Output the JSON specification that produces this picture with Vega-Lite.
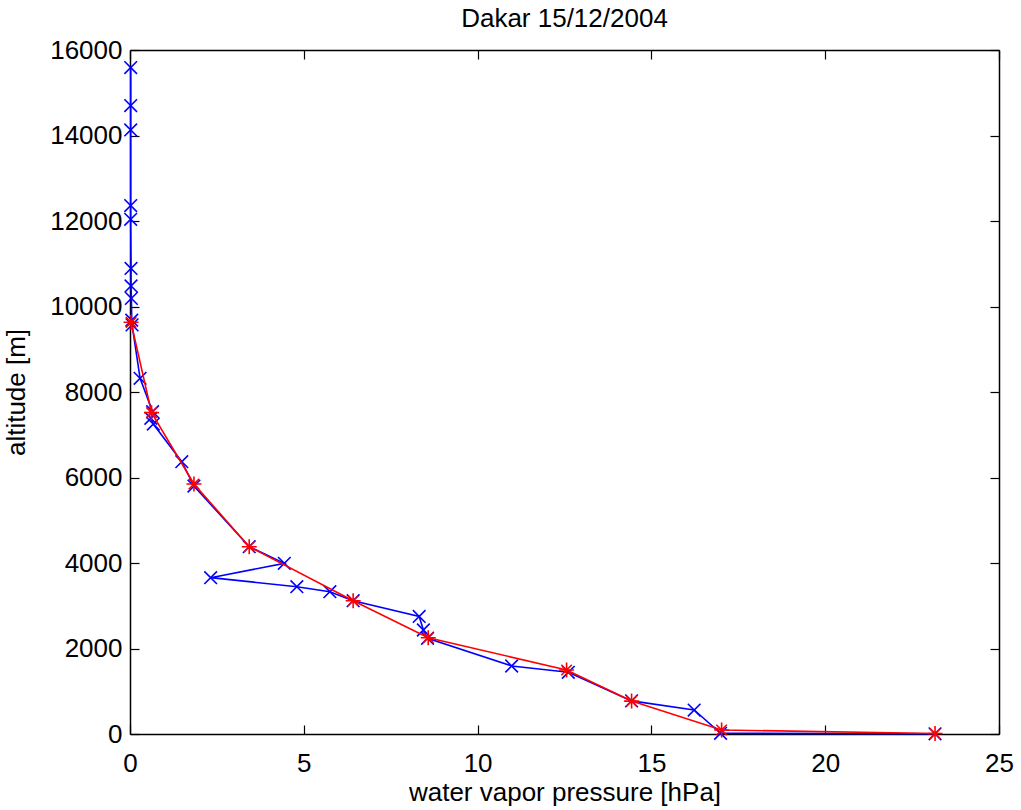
{
  "$schema": "https://vega.github.io/schema/vega-lite/v6.json",
  "autosize": {"type": "none"},
  "width": 869,
  "height": 684,
  "padding": {"left": 130, "top": 50, "right": 22, "bottom": 76},
  "background": "white",
  "view": {"stroke": null},
  "config": {
    "font": "Liberation Sans",
    "axis": {
      "domainColor": "black", "domainWidth": 1.5, "tickColor": "black", "tickWidth": 1.2,
      "labelColor": "black", "titleColor": "black", "labelFont": "Liberation Sans", "titleFont": "Liberation Sans",
      "labelFontSize": 26, "titleFontSize": 26, "titleFontWeight": "normal", "grid": false
    }
  },
  "title": {"text": "Dakar 15/12/2004", "fontSize": 26, "fontWeight": "normal", "font": "Liberation Sans", "color": "black", "anchor": "middle", "frame": "group", "offset": 5},
  "data": {"values": [
    {"s": "blue", "i": 1, "p": 0.02, "alt": 15590},
    {"s": "blue", "i": 2, "p": 0.02, "alt": 14700},
    {"s": "blue", "i": 3, "p": 0.02, "alt": 14130},
    {"s": "blue", "i": 4, "p": 0.02, "alt": 12360},
    {"s": "blue", "i": 5, "p": 0.02, "alt": 12040},
    {"s": "blue", "i": 6, "p": 0.03, "alt": 10890},
    {"s": "blue", "i": 7, "p": 0.03, "alt": 10480},
    {"s": "blue", "i": 8, "p": 0.04, "alt": 10190},
    {"s": "blue", "i": 9, "p": 0.05, "alt": 9680},
    {"s": "blue", "i": 10, "p": 0.06, "alt": 9570},
    {"s": "blue", "i": 11, "p": 0.29, "alt": 8320},
    {"s": "blue", "i": 12, "p": 0.65, "alt": 7540},
    {"s": "blue", "i": 13, "p": 0.60, "alt": 7385},
    {"s": "blue", "i": 14, "p": 0.67, "alt": 7250},
    {"s": "blue", "i": 15, "p": 1.49, "alt": 6370},
    {"s": "blue", "i": 16, "p": 1.84, "alt": 5800},
    {"s": "blue", "i": 17, "p": 3.43, "alt": 4381},
    {"s": "blue", "i": 18, "p": 4.44, "alt": 3992},
    {"s": "blue", "i": 19, "p": 2.32, "alt": 3657},
    {"s": "blue", "i": 20, "p": 4.80, "alt": 3446},
    {"s": "blue", "i": 21, "p": 5.75, "alt": 3329},
    {"s": "blue", "i": 22, "p": 6.42, "alt": 3118},
    {"s": "blue", "i": 23, "p": 8.32, "alt": 2750},
    {"s": "blue", "i": 24, "p": 8.44, "alt": 2433},
    {"s": "blue", "i": 25, "p": 8.56, "alt": 2240},
    {"s": "blue", "i": 26, "p": 10.98, "alt": 1591},
    {"s": "blue", "i": 27, "p": 12.61, "alt": 1443},
    {"s": "blue", "i": 28, "p": 14.43, "alt": 775},
    {"s": "blue", "i": 29, "p": 16.23, "alt": 561},
    {"s": "blue", "i": 30, "p": 16.99, "alt": 16},
    {"s": "blue", "i": 31, "p": 23.16, "alt": 5},
    {"s": "red", "i": 1, "p": 0.03, "alt": 9630},
    {"s": "red", "i": 2, "p": 0.62, "alt": 7517},
    {"s": "red", "i": 3, "p": 1.84, "alt": 5848},
    {"s": "red", "i": 4, "p": 3.43, "alt": 4381},
    {"s": "red", "i": 5, "p": 6.42, "alt": 3118},
    {"s": "red", "i": 6, "p": 8.58, "alt": 2253},
    {"s": "red", "i": 7, "p": 12.56, "alt": 1497},
    {"s": "red", "i": 8, "p": 14.43, "alt": 770},
    {"s": "red", "i": 9, "p": 17.02, "alt": 94},
    {"s": "red", "i": 10, "p": 23.16, "alt": 10}
  ]},
  "resolve": {"axis": {"x": "independent", "y": "independent"}},
  "layer": [
    {
      "transform": [{"filter": "datum.s === 'blue'"}],
      "mark": {"type": "line", "color": "#0000ff", "strokeWidth": 1.6},
      "encoding": {
        "x": {"field": "p", "type": "quantitative", "scale": {"domain": [0, 25], "nice": false, "zero": false},
              "axis": {"orient": "bottom", "values": [0, 5, 10, 15, 20, 25], "tickSize": -9, "labelPadding": 25, "title": "water vapor pressure [hPa]", "titlePadding": 3, "labelFlush": false}},
        "y": {"field": "alt", "type": "quantitative", "scale": {"domain": [0, 16000], "nice": false, "zero": false},
              "axis": {"orient": "left", "values": [0, 2000, 4000, 6000, 8000, 10000, 12000, 14000, 16000], "format": "d", "tickSize": -9, "labelPadding": 17, "title": "altitude [m]", "titlePadding": 20, "labelFlush": false}},
        "order": {"field": "i", "type": "quantitative"}
      }
    },
    {
      "transform": [{"filter": "datum.s === 'blue'"}],
      "mark": {"type": "point", "shape": "M-1,-1L1,1M1,-1L-1,1", "filled": false, "stroke": "#0000ff", "strokeWidth": 1.6, "size": 160, "opacity": 1},
      "encoding": {
        "x": {"field": "p", "type": "quantitative", "axis": null},
        "y": {"field": "alt", "type": "quantitative", "axis": null}
      }
    },
    {
      "transform": [{"filter": "datum.s === 'red'"}],
      "mark": {"type": "line", "color": "#ff0000", "strokeWidth": 1.6},
      "encoding": {
        "x": {"field": "p", "type": "quantitative", "axis": null},
        "y": {"field": "alt", "type": "quantitative", "axis": null},
        "order": {"field": "i", "type": "quantitative"}
      }
    },
    {
      "transform": [{"filter": "datum.s === 'red'"}],
      "mark": {"type": "point", "shape": "M-1,0L1,0M0,-1L0,1M-0.7,-0.7L0.7,0.7M0.7,-0.7L-0.7,0.7", "filled": false, "stroke": "#ff0000", "strokeWidth": 1.6, "size": 225, "opacity": 1},
      "encoding": {
        "x": {"field": "p", "type": "quantitative",
              "axis": {"orient": "top", "values": [0, 5, 10, 15, 20, 25], "tickSize": -9, "labels": false, "title": null}},
        "y": {"field": "alt", "type": "quantitative",
              "axis": {"orient": "right", "values": [0, 2000, 4000, 6000, 8000, 10000, 12000, 14000, 16000], "tickSize": -9, "labels": false, "title": null}}
      }
    }
  ]
}
